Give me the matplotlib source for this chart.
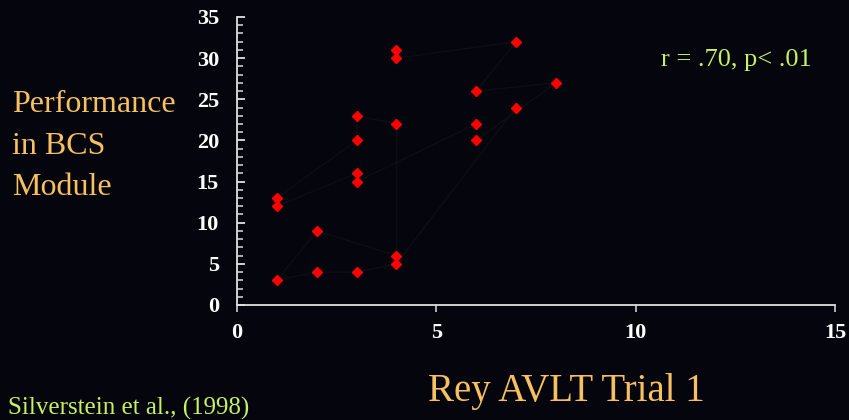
import matplotlib.pyplot as plt
from matplotlib.ticker import MultipleLocator

# Rey AVLT trial 1 scores vs BCS module performance, in the order the series is joined
rey_trial1 = [4, 4, 7, 6, 8, 6, 6, 3, 3, 1, 1, 3, 3, 4, 4, 2, 1, 2, 3, 4, 7]
bcs_score = [31, 30, 32, 26, 27, 20, 22, 15, 16, 12, 13, 20, 23, 22, 6, 9, 3, 4, 4, 5, 24]

x_ticks = [0, 5, 10, 15]
y_ticks = [0, 5, 10, 15, 20, 25, 30, 35]

bg = '#05050e'
orange = '#f8c060'
green = '#c8f060'

plt.rcParams['font.family'] = ['Liberation Serif', 'DejaVu Serif']

fig = plt.figure(figsize=(8.49, 4.2), dpi=100)
fig.patch.set_facecolor(bg)
ax = fig.add_axes([237 / 849, 1 - 305 / 420, (835 - 237) / 849, (305 - 17) / 420])
ax.set_facecolor(bg)

ax.plot(rey_trial1, bcs_score, color='#0d0d12', lw=1, zorder=1)
ax.plot(rey_trial1, bcs_score, ls='none', marker='D', markersize=5,
        color='#ff0000', markeredgecolor='#ff0000', zorder=3)

ax.set_xlim(0, 15)
ax.set_ylim(0, 35)
ax.set_xticks(x_ticks)
ax.set_yticks(y_ticks)
ax.yaxis.set_minor_locator(MultipleLocator(1))

for s in ['top', 'right']:
    ax.spines[s].set_visible(False)
for s in ['left', 'bottom']:
    ax.spines[s].set_color('#e0e0e0')
    ax.spines[s].set_linewidth(1.3)

ax.tick_params(axis='y', which='major', direction='in', length=6, width=1.3,
               color='#e0e0e0', pad=13, labelsize=16, labelcolor='white')
ax.tick_params(axis='y', which='minor', direction='in', length=4.3, width=1.2,
               color='#cccccc')
ax.tick_params(axis='x', which='major', direction='out', length=5, width=1.3,
               color='#c0c0c0', pad=8, labelsize=16, labelcolor='white')
for lab in ax.get_xticklabels() + ax.get_yticklabels():
    lab.set_fontweight('bold')

fig.text(12 / 849, 1 - 146 / 420, 'Performance\nin BCS\nModule', color=orange,
         fontsize=23, ha='left', va='center', linespacing=1.55)
fig.text(566 / 849, 1 - 392 / 420, 'Rey AVLT Trial 1', color=orange,
         fontsize=28, ha='center', va='center')
fig.text(8 / 849, 1 - 408 / 420, 'Silverstein et al., (1998)', color=green,
         fontsize=18, ha='left', va='center')
fig.text(736 / 849, 1 - 60 / 420, 'r = .70, p< .01', color=green,
         fontsize=19, ha='center', va='center')

fig.savefig('out.png', dpi=100, facecolor=bg)
